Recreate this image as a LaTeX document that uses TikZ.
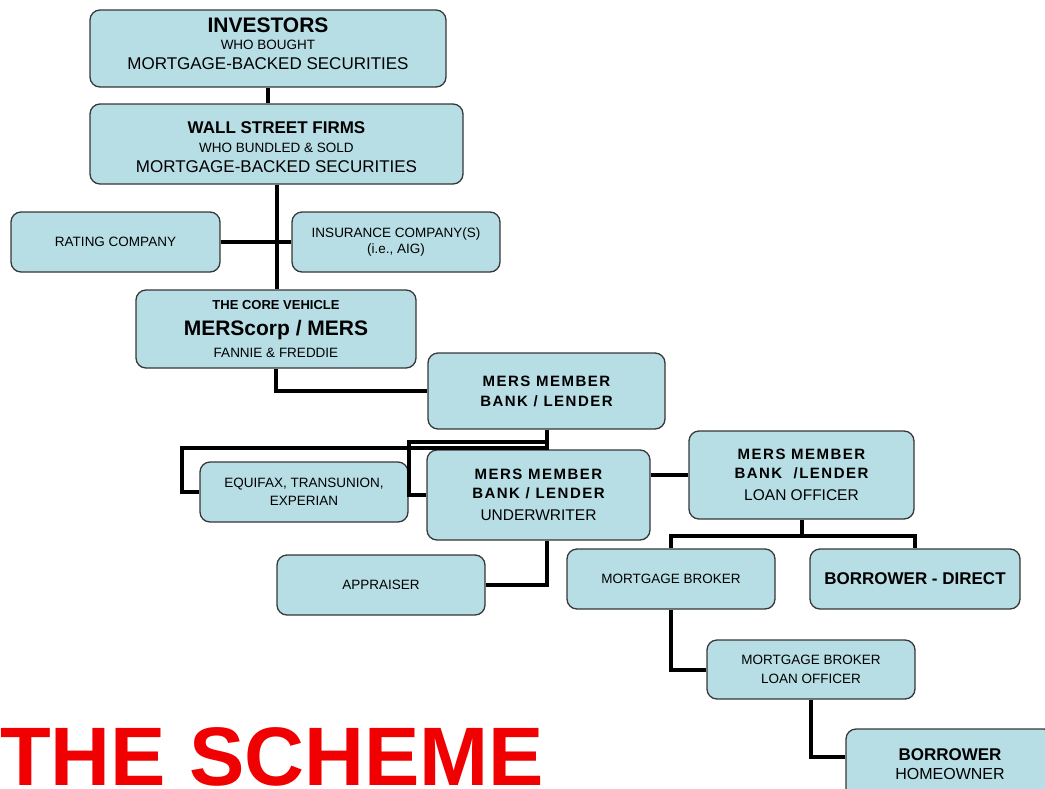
\documentclass[tikz,border=0pt]{standalone}
\usepackage{fontspec}
\setmainfont{Liberation Sans}
\newfontfamily\spacedsans[LetterSpace=10]{Liberation Sans}
\newcommand\fsz[2]{\fontsize{#1}{#2}\selectfont}
\definecolor{boxfill}{RGB}{183,221,229}
\definecolor{boxline}{RGB}{55,55,55}
\definecolor{schemered}{RGB}{240,0,0}
\begin{document}
\begin{tikzpicture}[x=1pt,y=-1pt,
  box/.style={draw=boxline, line width=1.3pt, fill=boxfill, rounded corners=10pt,
    inner sep=0pt, align=center, font=\fsz{13.5}{19}},
  link/.style={line width=4pt, draw=black}]
\useasboundingbox (0,0) rectangle (1045,788);
\begin{scope}
\clip (0,0) rectangle (1045,788);
% nodes
\node[box, minimum width=356pt, minimum height=77pt] (inv) at (268,48.5)
  {{\fsz{21}{20}\bfseries INVESTORS}\\[-2pt]{\fsz{13.5}{20}WHO BOUGHT}\\[1pt]{\fsz{17}{20}MORTGAGE-BACKED SECURITIES}\\[-16pt]\strut};
\node[box, minimum width=373pt, minimum height=80pt] (wall) at (276.5,144)
  {\strut\\[-14pt]{\fsz{17}{20}\bfseries WALL STREET FIRMS}\\[0pt]{\fsz{13.5}{20}WHO BUNDLED \& SOLD}\\[1pt]{\fsz{17}{20}MORTGAGE-BACKED SECURITIES}};
\node[box, minimum width=209pt, minimum height=60pt] (rating) at (115.5,242) {RATING COMPANY};
\node[box, minimum width=208pt, minimum height=60pt] (ins) at (396,242)
  {INSURANCE COMPANY(S)\\[-2pt](i.e., AIG)};
\node[box, minimum width=280pt, minimum height=78pt] (core) at (276,329)
  {{\fsz{13}{20}\bfseries THE CORE VEHICLE}\\[7pt]{\fsz{21}{20}\bfseries MERScorp / MERS}\\[3pt]{\fsz{13.5}{20}FANNIE \& FREDDIE}};
\node[box, minimum width=237pt, minimum height=76pt] (bank) at (546.5,391)
  {{\spacedsans\bfseries\fsz{15}{20}MERS MEMBER}\\[1pt]{\spacedsans\bfseries\fsz{15}{20}BANK / LENDER}};
\node[box, minimum width=208pt, minimum height=60pt] (equi) at (304,492)
  {EQUIFAX, TRANSUNION,\\[-1pt]EXPERIAN};
\node[box, minimum width=223pt, minimum height=90pt] (under) at (538.5,495)
  {{\spacedsans\bfseries\fsz{15}{17}MERS MEMBER}\\{\spacedsans\bfseries\fsz{15}{17}BANK / LENDER}\\[3pt]{\fsz{15.5}{17}UNDERWRITER}};
\node[box, minimum width=225pt, minimum height=88pt] (loan) at (801.5,475)
  {{\spacedsans\bfseries\fsz{15}{17}MERS MEMBER}\\{\spacedsans\bfseries\fsz{15}{17}BANK~ /LENDER}\\[3pt]{\fsz{15.5}{17}LOAN OFFICER}};
\node[box, minimum width=208pt, minimum height=60pt] (appr) at (381,585) {APPRAISER};
\node[box, minimum width=208pt, minimum height=60pt] (mb) at (671,579) {MORTGAGE BROKER};
\node[box, minimum width=210pt, minimum height=60pt] (bd) at (915,579)
  {{\bfseries\fsz{17}{20}BORROWER - DIRECT}};
\node[box, minimum width=208pt, minimum height=59pt] (mblo) at (811,669.5)
  {MORTGAGE BROKER\\LOAN OFFICER};
\node[box, minimum width=208pt, minimum height=70pt] (borr) at (950,764)
  {{\bfseries\fsz{17}{20}BORROWER}\\{\fsz{16}{20}HOMEOWNER}};
% connectors
\draw[link] (inv.south) -- (inv.south |- wall.north);
\draw[link] (wall.south) -- (wall.south |- core.north);
\draw[link] (rating.east) -- (ins.west);
\draw[link] (core.south) |- (bank.west);
\draw[link] (bank.south) -- (bank.south |- under.north);
\draw[link] (bank.south) -- ++(0,18) -| ([xshift=-17pt]equi.west) -- (equi.west);
\draw[link] (bank.south) -- ++(0,12) -| ([xshift=-17pt]under.west) -- (under.west);
\draw[link] (loan.west) -- (loan.west -| under.east);
\draw[link] (bank.south |- under.south) |- (appr.east);
\draw[link] (loan.south) -- ++(0,16) -| (mb.north);
\draw[link] (loan.south) -- ++(0,16) -| (bd.north);
\draw[link] (mb.south) |- (mblo.west);
\draw[link] (mblo.south) |- ([yshift=7pt]borr.west);
\end{scope}
\node[anchor=base west, inner sep=0pt, text depth=0pt, text=schemered, font=\fsz{83}{83}\bfseries] (title) at (0,785) {THE SCHEME};
\end{tikzpicture}
\end{document}
